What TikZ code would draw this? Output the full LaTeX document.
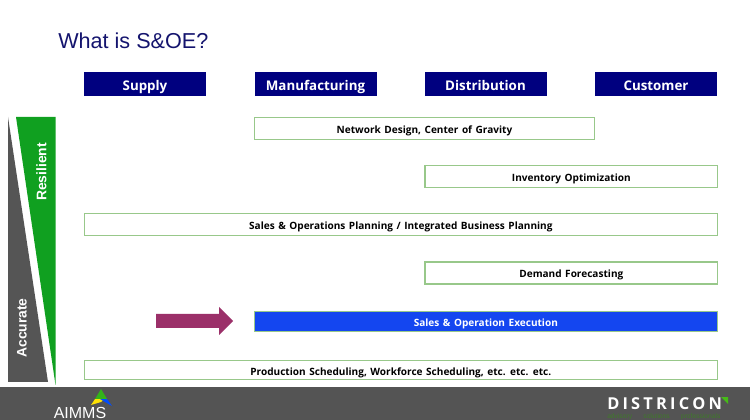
\documentclass[tikz,border=0pt]{standalone}
\usepackage{fontspec}
\setmainfont{Liberation Sans}
\newfontfamily\labelfont{Open Sans}[WordSpace=1.35]
\usetikzlibrary{shapes.arrows}
\definecolor{navyhead}{HTML}{00007F}
\definecolor{titleblue}{HTML}{14146E}
\definecolor{execblue}{HTML}{1446F0}
\definecolor{boxgreen}{HTML}{98C88A}
\definecolor{wedgegreen}{HTML}{10A020}
\definecolor{wedgegray}{HTML}{555555}
\definecolor{footgray}{HTML}{545454}
\definecolor{plum}{HTML}{9B3069}
\definecolor{taggreen}{HTML}{3F7A2A}
\tikzset{
  x=0.75pt,y=-0.75pt,
  band/.style={anchor=north west,inner sep=0pt,outer sep=0pt,text height=7.4pt,text depth=0pt,font=\labelfont\bfseries\fontsize{7.55}{10}\selectfont},
  headbox/.style={band,fill=navyhead,text=white,minimum width=91.5pt,minimum height=17.6pt,text height=8.8pt,font=\labelfont\bfseries\fontsize{10}{12}\selectfont},
  taskbox/.style={band,draw=boxgreen,line width=0.8pt,fill=white,minimum height=16.5pt},
  execbox/.style={band,fill=execblue,draw=boxgreen,line width=0.4pt,text=white,minimum height=15pt},
  sidetext/.style={text=white,rotate=90,font=\bfseries\fontsize{10.4}{12}\selectfont,inner sep=0pt},
}
\begin{document}
\begin{tikzpicture}
\useasboundingbox (0,0) rectangle (750,420);
\fill[white] (0,0) rectangle (750,420);

% title
\node[anchor=base west,inner sep=0pt,text=titleblue,font=\fontsize{16.2}{20}\selectfont] (title) at (58,49) {What is S\&OE?};

% value chain headers
\node[headbox] (supply) at (84,72.5) {Supply};
\node[headbox] (manuf) at (254.5,72.5) {Manufacturing};
\node[headbox] (distr) at (424.5,72.5) {Distribution};
\node[headbox] (cust) at (595,72.5) {Customer};

% planning layers
\node[taskbox,minimum width=255pt] (network) at (254.5,117.5) {Network Design, Center of Gravity};
\node[taskbox,minimum width=219.5pt] (inventory) at (425,165.5) {Inventory Optimization};
\node[taskbox,minimum width=474.5pt] (sop) at (84.5,213.5) {Sales \& Operations Planning / Integrated Business Planning};
\node[taskbox,minimum width=219.5pt] (demand) at (425,262) {Demand Forecasting};
\node[execbox,minimum width=347pt] (exec) at (254.5,311.5) {Sales \& Operation Execution};
\node[taskbox,minimum width=474.5pt,minimum height=14.5pt] (prod) at (84.5,360.5) {Production Scheduling, Workforce Scheduling, etc. etc. etc.};

% pointer to the execution layer
\fill[plum] (156,314) -- (219,314) -- (219,307) -- (233,321) -- (219,335) -- (219,328) -- (156,328) -- cycle;

% accuracy / resilience wedges
\fill[wedgegray] (8,117) -- (48,382) -- (8,382) -- cycle;
\fill[wedgegreen] (16,117) -- (55.5,117) -- (55.5,385) -- cycle;
\node[sidetext] (resilient) at (41.5,172) {Resilient};
\node[sidetext] (accurate) at (22,328) {Accurate};

% footer
\fill[footgray] (0,387) rectangle (750,420);

% AIMMS mark
\fill[wedgegreen!80!lime] (101,389) -- (95,399) -- (107,399) -- cycle;
\fill[yellow!85!orange] (95,399) -- (91,405) -- (101,402) -- (104,399) -- cycle;
\fill[blue!70!cyan] (107,399) -- (100,399) -- (105,402) -- (112,406) -- cycle;
\node[anchor=base,inner sep=0pt,text=white,font=\fontsize{12}{14}\selectfont] (aimms) at (80,418.6) {AIMMS};

% DISTRICON mark
\node[anchor=base west,inner sep=0pt,text=white,font=\labelfont\bfseries\fontsize{12.3}{14}\selectfont] (districon) at (607,409) {D\kern2.4pt I\kern2.4pt S\kern2.4pt T\kern2.4pt R\kern2.4pt I\kern2.4pt C\kern2.4pt O\kern2.4pt N};
\fill[wedgegreen!70!lime] (721,397) -- (728,397) -- (728,404) -- cycle;
\node[anchor=west,inner sep=0pt,text=taggreen,font=\fontsize{5}{6}\selectfont] (tagline) at (607,416.5) {advisory\hspace{8.5pt}solutions\hspace{8.5pt}professionals};
\end{tikzpicture}
\end{document}
